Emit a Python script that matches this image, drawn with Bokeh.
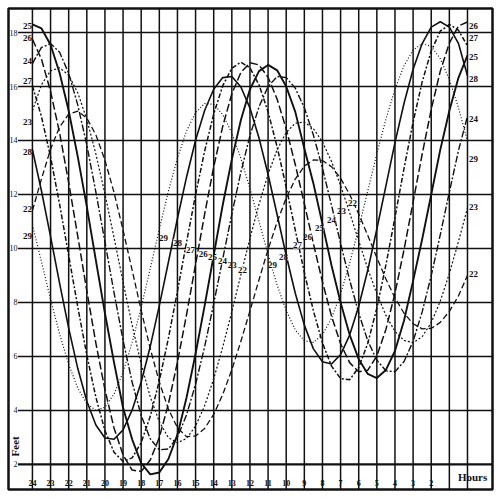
from bokeh.plotting import figure
from bokeh.models import Range1d, Span
from bokeh.core.properties import value
from bokeh.embed import file_html
from bokeh.resources import INLINE

# ---- data -------------------------------------------------------------
GRID_HOURS = list(range(24, -1, -1))                 # 24 ... 0 (left to right)
HOUR_LABELS = ["24", "23", "22", "21", "20", "19", "18", "17", "16", "15", "14",
               "13", "12", "11", "10", "9", "8", "7", "6", "5", "4", "3", "2"]
FEET = [2, 4, 6, 8, 10, 12, 14, 16, 18]

# readings every half hour, from hour 24 down to hour 0
SAMPLE_HOURS = [24 - 0.5 * i for i in range(49)]

DAYS = ["22", "23", "24", "25", "26", "27", "28", "29"]
D22 = [11.4, 12.58, 13.68, 14.5, 14.98,
       15.09, 14.83, 14.21, 13.27, 12.08, 10.68, 9.2, 7.71, 6.29, 5.05, 4.05, 3.36, 3.03,
       3.05, 3.33, 3.85, 4.59, 5.51, 6.56, 7.69, 8.84, 9.96, 10.98, 11.87, 12.57, 13.05, 13.28,
       13.26, 13.03, 12.6, 12.0, 11.28, 10.48, 9.66, 8.87, 8.17, 7.6, 7.21, 7.02,
       7.04, 7.26, 7.67, 8.24, 9.0]
D23 = [15.1, 16.07, 16.58, 16.69, 16.42, 15.77, 14.78, 13.5, 12.02, 10.41, 8.76, 7.16,
       5.72, 4.5, 3.58, 2.99, 2.8,
       2.96, 3.42, 4.17, 5.17, 6.35, 7.66, 9.02, 10.38, 11.64, 12.75, 13.66, 14.3, 14.64,
       14.68, 14.44, 13.94, 13.22, 12.33, 11.33, 10.28, 9.25, 8.32, 7.52, 6.93, 6.59,
       6.51, 6.73, 7.25, 8.05, 9.07, 10.25, 11.5]
D24 = [16.85, 17.45, 17.59, 17.27, 16.49, 15.32, 13.83, 12.09, 10.24, 8.37, 6.6, 5.05,
       3.81, 2.95, 2.54,
       2.57, 3.01, 3.83, 4.97, 6.36, 7.95, 9.62, 11.27, 12.83, 14.18, 15.25, 16.0, 16.37,
       16.33, 15.94, 15.21, 14.2, 12.97, 11.6, 10.19, 8.83, 7.6, 6.58, 5.86, 5.47,
       5.43, 5.81, 6.56, 7.65, 8.99, 10.51, 12.09, 13.62, 14.9]
D25 = [18.3, 18.15, 17.55, 16.5, 15.1, 13.4, 11.55, 9.56, 7.6, 5.78, 4.1, 2.93, 2.05, 1.63,
       1.7, 2.2, 3.1, 4.47, 6.1, 7.88, 9.75, 11.62, 13.3, 14.76, 15.9, 16.57, 16.8,
       16.6, 16.0, 15.06, 13.7, 12.41, 10.9, 9.37, 8.0, 6.8, 5.9, 5.35, 5.2,
       5.5, 6.2, 7.33, 8.8, 10.34, 12.0, 13.66, 15.1, 16.32, 17.15]
D26 = [17.75, 17.01, 15.82, 14.28, 12.44, 10.46, 8.43, 6.49, 4.77, 3.35, 2.35, 1.79,
       1.74, 2.16, 3.0, 4.24, 5.79, 7.54, 9.41, 11.27, 13.02, 14.53, 15.73, 16.52, 16.88,
       16.8, 16.34, 15.53, 14.43, 13.11, 11.66, 10.18, 8.76, 7.49, 6.47, 5.77, 5.43,
       5.49, 6.02, 7.0, 8.34, 9.96, 11.72, 13.49, 15.15, 16.57, 17.61, 18.24, 18.39]
D27 = [16.03, 14.88, 13.39, 11.63, 9.74, 7.84, 6.05, 4.49, 3.25, 2.45, 2.11,
       2.24, 2.81, 3.78, 5.1, 6.67, 8.42, 10.23, 11.99, 13.61, 14.98, 16.03, 16.68,
       16.9, 16.69, 16.06, 15.06, 13.76, 12.27, 10.68, 9.11, 7.69, 6.5, 5.64, 5.18,
       5.14, 5.59, 6.49, 7.79, 9.39, 11.15, 12.97, 14.68, 16.17, 17.32, 18.05, 18.3, 18.09, 17.5]
D28 = [13.66, 12.13, 10.44, 8.71, 7.05, 5.56, 4.34, 3.46, 2.98,
       2.93, 3.28, 4.01, 5.05, 6.37, 7.88, 9.49, 11.11, 12.64, 14.01, 15.11, 15.9, 16.33,
       16.37, 15.98, 15.2, 14.09, 12.74, 11.25, 9.74, 8.34, 7.16, 6.28, 5.8,
       5.72, 6.07, 6.79, 7.86, 9.2, 10.72, 12.32, 13.92, 15.38, 16.64, 17.59, 18.2,
       18.4, 18.2, 17.6, 16.4]
D29 = [10.88, 9.5, 8.12, 6.83, 5.71, 4.83, 4.25, 4.0,
       4.12, 4.6, 5.42, 6.52, 7.82, 9.26, 10.72, 12.12, 13.35, 14.35, 15.03, 15.37,
       15.34, 14.96, 14.28, 13.34, 12.22, 11.0, 9.78, 8.64, 7.7, 6.98, 6.58,
       6.52, 6.8, 7.42, 8.31, 9.46, 10.76, 12.13, 13.51, 14.79, 15.9, 16.77, 17.35, 17.59,
       17.49, 17.03, 16.26, 15.22, 13.98]
SERIES = [D22, D23, D24, D25, D26, D27, D28, D29]

# day labels at the left edge (feet at hour 24) and right edge (feet at hour 0)
LEFT_DAYS = ["25", "26", "24", "27", "23", "28", "22", "29"]
LEFT_FEET = [18.26, 17.78, 16.96, 16.19, 14.67, 13.56, 11.48, 10.48]
RIGHT_DAYS = ["26", "27", "25", "28", "24", "29", "23", "22"]
RIGHT_FEET = [18.26, 17.78, 17.1, 16.26, 14.8, 13.3, 11.52, 9.07]
# day labels inside the chart
MID_DAYS = ["29", "28", "27", "26", "25", "24", "23", "22",
            "29", "28", "27", "26", "25", "24", "23", "22"]
MID_HOURS = [16.77, 16.0, 15.28, 14.57, 14.07, 13.52, 12.97, 12.41,
             10.76, 10.15, 9.38, 8.83, 8.17, 7.50, 6.95, 6.35]
MID_FEET = [10.37, 10.22, 9.96, 9.81, 9.67, 9.52, 9.37, 9.22,
            9.37, 9.67, 10.11, 10.41, 10.75, 11.07, 11.37, 11.70]

# ---- styles -----------------------------------------------------------
STYLES = {
    "22": dict(line_dash="6 3", line_width=1.3),
    "23": dict(line_dash="2 2", line_width=1.2),
    "24": dict(line_dash="7 2 2 2", line_width=1.4),
    "25": dict(line_dash="solid", line_width=1.9),
    "26": dict(line_dash="8 3", line_width=1.5),
    "27": dict(line_dash="5 2 2 2", line_width=1.5),
    "28": dict(line_dash="solid", line_width=1.6),
    "29": dict(line_dash="1 2", line_width=1.2),
}
SERIF = value("Liberation Serif")
INK = "#111111"

p = figure(width=500, height=499,
           x_range=Range1d(25.32, -1.38), y_range=Range1d(1.07, 18.89),
           x_axis_location=None, y_axis_location=None,
           min_border_left=8, min_border_right=8, min_border_top=8, min_border_bottom=10,
           toolbar_location=None, output_backend="svg")
p.grid.visible = False
p.outline_line_color = INK
p.outline_line_width = 2.5
p.background_fill_color = "white"
p.border_fill_color = "white"

# vertical hour lines
for h in GRID_HOURS:
    p.add_layout(Span(location=h, dimension="height", line_color=INK, line_width=1.5))

# horizontal feet lines
p.segment(x0=[24.8] * len(FEET), y0=FEET, x1=[-1.38] * len(FEET), y1=FEET,
          line_color=INK, line_width=[2.2] + [1.5] * (len(FEET) - 1))

# feet labels
p.text(x=[24.83] * len(FEET), y=FEET, text=[str(f) for f in FEET],
       text_align="right", text_baseline="middle", text_font=SERIF,
       text_font_size="8px", text_color=INK)

# hour labels
p.text(x=GRID_HOURS[:len(HOUR_LABELS)], y=[1.32] * len(HOUR_LABELS), text=HOUR_LABELS,
       text_align="center", text_baseline="middle", text_font=SERIF,
       text_font_size="8px", text_font_style="bold", text_color=INK)

# tide curves
for d, vals in zip(DAYS, SERIES):
    p.line(SAMPLE_HOURS, vals, line_color=INK, line_join="round", **STYLES[d])

# day labels
p.text(x=[24.03] * len(LEFT_DAYS), y=LEFT_FEET, text=LEFT_DAYS,
       text_align="right", text_baseline="middle", text_font=SERIF,
       text_font_size="9px", text_font_style="bold", text_color=INK)
p.text(x=[-0.08] * len(RIGHT_DAYS), y=RIGHT_FEET, text=RIGHT_DAYS,
       text_align="left", text_baseline="middle", text_font=SERIF,
       text_font_size="9px", text_font_style="bold", text_color=INK)
p.text(x=MID_HOURS, y=MID_FEET, text=MID_DAYS,
       text_align="center", text_baseline="middle", text_font=SERIF,
       text_font_size="9px", text_font_style="bold", text_color=INK,
       background_fill_color="white")

# axis titles
p.text(x=[24.94], y=[2.67], text=["Feet"], angle=1.5708,
       text_align="center", text_baseline="middle", text_font=SERIF,
       text_font_size="11px", text_font_style="bold", text_color=INK)
p.text(x=[-0.28], y=[1.52], text=["Hours"],
       text_align="center", text_baseline="middle", text_font=SERIF,
       text_font_size="11px", text_font_style="bold", text_color=INK,
       background_fill_color="white")

open("out.html", "w").write(file_html(p, INLINE))
